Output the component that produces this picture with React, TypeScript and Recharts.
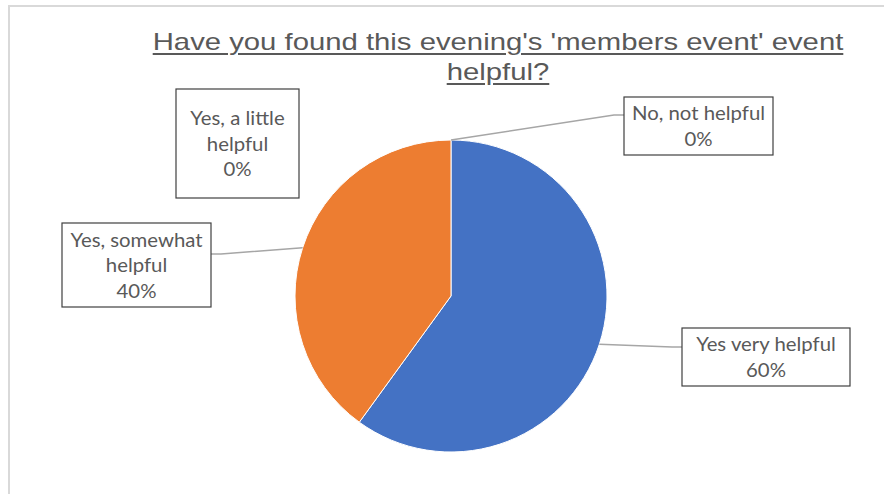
import React from "react";
import { Cell, Pie, PieChart } from "recharts";

const categories = [
  "Yes very helpful",
  "Yes, somewhat helpful",
  "Yes, a little helpful",
  "No, not helpful",
];
const shares = [60, 40, 0, 0];
const colors = ["#4472C4", "#ED7D31", "#A5A5A5", "#FFC000"];

const data = categories.map((name, i) => ({ name, value: shares[i] }));

// where each data label box sits, relative to the pie centre
type LabelBox = {
  dx: number;
  dy: number;
  w: number;
  h: number;
  firstLineWords: number;
  leader: "left" | "right" | null;
  leaderY: number;
};
const labelBoxes: Record<string, LabelBox> = {
  "Yes very helpful": { dx: 315, dy: 61, w: 168, h: 58, firstLineWords: 3, leader: "left", leaderY: 19 },
  "Yes, somewhat helpful": { dx: -314.5, dy: -31, w: 149, h: 84, firstLineWords: 2, leader: "right", leaderY: 31 },
  "Yes, a little helpful": { dx: -213.5, dy: -152.5, w: 123, h: 109, firstLineWords: 3, leader: null, leaderY: 0 },
  "No, not helpful": { dx: 247.5, dy: -170, w: 149, h: 58, firstLineWords: 3, leader: "left", leaderY: 18 },
};

const RAD = Math.PI / 180;
const TEXT = "#595959";

function renderLabel(props: any) {
  const { cx, cy, midAngle, outerRadius, name, percent } = props;
  const box = labelBoxes[name];
  if (!box) return null;
  const words = String(name).split(" ");
  const lines = [
    words.slice(0, box.firstLineWords).join(" "),
    words.slice(box.firstLineWords).join(" "),
    `${Math.round(percent * 100)}%`,
  ].filter((l) => l.length > 0);

  const bx = cx + box.dx - box.w / 2;
  const by = cy + box.dy - box.h / 2;
  const lineH = 25.5;
  const firstY = cy + box.dy - ((lines.length - 1) * lineH) / 2;

  let leader = null;
  if (box.leader) {
    const sx = cx + outerRadius * Math.cos(-midAngle * RAD);
    const sy = cy + outerRadius * Math.sin(-midAngle * RAD);
    const ex = box.leader === "left" ? bx : bx + box.w;
    const ey = by + box.leaderY;
    const elbow = box.leader === "left" ? ex - 10 : ex + 10;
    leader = (
      <polyline
        points={`${sx},${sy} ${elbow},${ey} ${ex},${ey}`}
        fill="none"
        stroke="#A6A6A6"
        strokeWidth={1.5}
      />
    );
  }

  return (
    <g key={name}>
      {leader}
      <rect x={bx} y={by} width={box.w} height={box.h} fill="#fff" stroke="#404040" strokeWidth={1.2} />
      {lines.map((l, i) => (
        <text
          key={i}
          transform={`translate(${cx + box.dx},${firstY + i * lineH}) scale(1.1,1)`}
          textAnchor="middle"
          dominantBaseline="central"
          fill={TEXT}
          fontSize={18.5}
          fontFamily="Lato, 'Open Sans', sans-serif"
        >
          {l}
        </text>
      ))}
    </g>
  );
}

export default function App() {
  return (
    <div
      style={{
        position: "absolute",
        left: 0,
        top: 0,
        width: 884,
        height: 494,
        overflow: "hidden",
        background: "#fff",
      }}
    >
      <div
        style={{
          position: "absolute",
          left: 8,
          top: 5,
          width: 1000,
          height: 600,
          borderLeft: "2px solid #D9D9D9",
          borderTop: "2px solid #D9D9D9",
        }}
      />
      <div
        style={{
          position: "absolute",
          left: 148,
          top: 27,
          width: 700,
          textAlign: "center",
          fontFamily: "'Liberation Sans', Arial, sans-serif",
          fontSize: 24,
          lineHeight: "30px",
          color: TEXT,
          textDecoration: "underline",
          textDecorationThickness: 2,
          textUnderlineOffset: 3,
          transform: "scaleX(1.22)",
          transformOrigin: "350px 0",
        }}
      >
        Have you found this evening's 'members event' event
        <br />
        helpful?
      </div>
      <div style={{ position: "absolute", left: 0, top: 0 }}>
        <PieChart width={884} height={494} margin={{ top: 0, right: 0, bottom: 0, left: 0 }}>
          <Pie
            data={data}
            dataKey="value"
            nameKey="name"
            cx={451}
            cy={296}
            outerRadius={156}
            startAngle={90}
            endAngle={-270}
            stroke="#fff"
            strokeWidth={1}
            label={renderLabel}
            labelLine={false}
            isAnimationActive={false}
          >
            {data.map((d, i) => (
              <Cell key={d.name} fill={colors[i]} />
            ))}
          </Pie>
        </PieChart>
      </div>
    </div>
  );
}
